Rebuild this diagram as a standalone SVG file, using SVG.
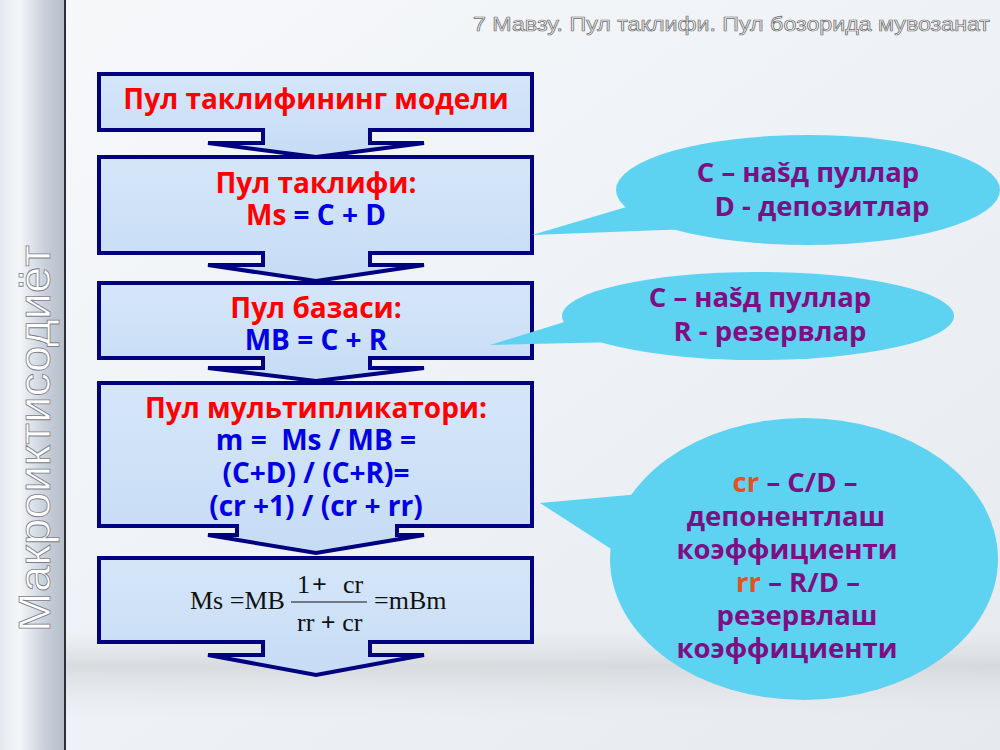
<svg xmlns="http://www.w3.org/2000/svg" width="1000" height="750" viewBox="0 0 1000 750">
<defs>
<linearGradient id="bg" x1="0" y1="0" x2="1" y2="1">
<stop offset="0" stop-color="#f7f8fa"/>
<stop offset="0.5" stop-color="#eef2f6"/>
<stop offset="1" stop-color="#e6eaee"/>
</linearGradient>
<linearGradient id="side" x1="0" y1="0" x2="1" y2="0">
<stop offset="0" stop-color="#e4e8ee"/>
<stop offset="0.3" stop-color="#f4f6f9"/>
<stop offset="0.7" stop-color="#c9d0da"/>
<stop offset="1" stop-color="#b6bec9"/>
</linearGradient>
<linearGradient id="boxfill" x1="0" y1="0" x2="0" y2="1">
<stop offset="0" stop-color="#d5e6f9"/>
<stop offset="1" stop-color="#c6dcf5"/>
</linearGradient>
<linearGradient id="band" x1="0" y1="0" x2="0" y2="1">
<stop offset="0" stop-color="#d9dcdf" stop-opacity="0"/>
<stop offset="0.4" stop-color="#cfd2d5" stop-opacity="0.7"/>
<stop offset="1" stop-color="#e2e4e6" stop-opacity="0"/>
</linearGradient>
<style>
.box{fill:url(#boxfill);stroke:#000080;stroke-width:4;stroke-linejoin:miter}
.bt{font-family:"Open Sans","Liberation Sans",sans-serif;font-weight:bold;font-size:28px;text-anchor:middle}
.red{fill:#ff0000}
.blue{fill:#0000e6}
.bub{fill:#5ed2f1}
.bubt{font-family:"Open Sans","Liberation Sans",sans-serif;font-weight:bold;font-size:27.5px;fill:#7e0f82;text-anchor:middle}
.org{fill:#e8501c}
.math{font-family:"Liberation Serif","Times New Roman",serif;font-size:26px;fill:#111}
</style>
</defs>
<rect x="0" y="0" width="1000" height="750" fill="url(#bg)"/>
<rect x="66" y="630" width="934" height="90" fill="url(#band)"/>
<rect x="0" y="0" width="64" height="750" fill="url(#side)"/>
<line x1="65" y1="0" x2="65" y2="750" stroke="#2a2f38" stroke-width="2"/>
<text transform="translate(50,632) rotate(-90)" font-family="Liberation Sans, Arial, sans-serif" font-size="44" fill="#ffffff" stroke="#7a808a" stroke-width="0.8" textLength="387" lengthAdjust="spacingAndGlyphs">Макроиктисодиёт</text>
<text x="990" y="31" text-anchor="end" font-family="Liberation Sans, Arial, sans-serif" font-size="20" fill="#f2f2f2" stroke="#6e6e6e" stroke-width="0.7" textLength="517" lengthAdjust="spacingAndGlyphs">7 Мавзу. Пул таклифи. Пул бозорида мувозанат</text>

<g id="connectors"></g>

<g id="box1">
<path class="box" d="M99,74 H532 V130 H370 V143 H424 L316,157 L208,143 H263 V130 H99 Z"/>
<text class="bt red" x="316" y="109">Пул таклифининг модели</text>
</g>
<g id="box2">
<path class="box" d="M99,157 H532 V253 H370 V265 H424 L316,281 L208,265 H263 V253 H99 Z"/>
<text class="bt red" x="316" y="193">Пул таклифи:</text>
<text class="bt" x="316" y="225"><tspan class="red">Ms</tspan><tspan class="blue"> = C + D</tspan></text>
</g>
<g id="box3">
<path class="box" d="M99,283 H532 V358 H370 V368 H424 L316,381 L208,368 H263 V358 H99 Z"/>
<text class="bt red" x="316" y="318">Пул базаси:</text>
<text class="bt blue" x="316" y="350">MB = C + R</text>
</g>
<g id="box4">
<path class="box" d="M99,383 H532 V526 H397 V535 H424 L316,553 L208,535 H237 V526 H99 Z"/>
<text class="bt red" x="316" y="418">Пул мультипликатори:</text>
<text class="bt blue" x="316" y="450" xml:space="preserve">m =  Ms / MB =</text>
<text class="bt blue" x="316" y="483">(C+D) / (C+R)=</text>
<text class="bt blue" x="316" y="516">(cr +1) / (cr + rr)</text>
</g>
<g id="box5">
<path class="box" d="M99,558 H532 V642 H370 V655 H424 L316,675 L208,655 H263 V642 H99 Z"/>
<text class="math" x="190" y="609">Ms =MB</text>
<text class="math" x="297" y="593">1<tspan dx="2" font-weight="bold">+</tspan></text>
<text class="math" x="343" y="593">cr</text>
<line x1="291" y1="602" x2="367" y2="602" stroke="#111" stroke-width="1.2"/>
<text class="math" x="297" y="631">rr <tspan font-weight="bold">+</tspan> cr</text>
<text class="math" x="374" y="609">=mBm</text>
</g>

<g id="bubble1">
<ellipse class="bub" cx="808" cy="190" rx="192" ry="55"/>
<polygon class="bub" points="532,235 650,200 690,229"/>
<text class="bubt" x="808" y="182">С – наšд пуллар</text>
<text class="bubt" x="822" y="216">D - депозитлар</text>
</g>
<g id="bubble2">
<ellipse class="bub" cx="758" cy="316" rx="196" ry="44"/>
<polygon class="bub" points="490,345 590,314 620,342"/>
<text class="bubt" x="760" y="307">С – наšд пуллар</text>
<text class="bubt" x="770" y="341">R - резервлар</text>
</g>
<g id="bubble3">
<ellipse class="bub" cx="804" cy="559" rx="194" ry="141"/>
<polygon class="bub" points="540,503 640,494 622,556"/>
<text class="bubt" x="795" y="492"><tspan class="org">cr</tspan> – C/D –</text>
<text class="bubt" x="786" y="526">депонентлаш</text>
<text class="bubt" x="787" y="559">коэффициенти</text>
<text class="bubt" x="798" y="592"><tspan class="org">rr</tspan> – R/D –</text>
<text class="bubt" x="797" y="625">резервлаш</text>
<text class="bubt" x="787" y="658">коэффициенти</text>
</g>
</svg>
